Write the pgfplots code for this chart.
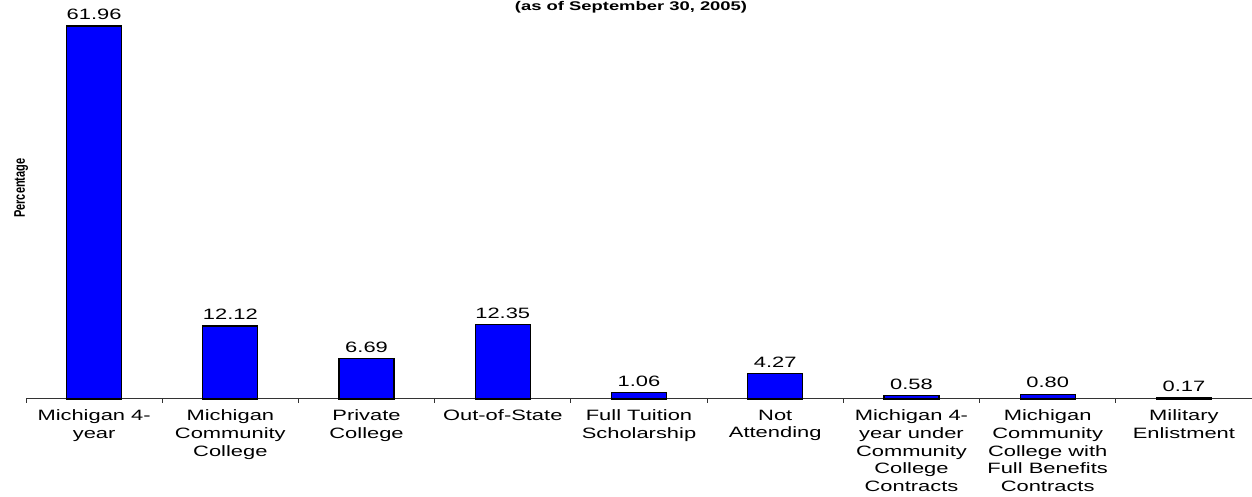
\documentclass[border=0pt]{standalone}
\usepackage{graphicx}
\usepackage{pgfplots}
\pgfplotsset{compat=1.18}
\usepackage{fontspec}
\setmainfont{Liberation Sans}[FakeStretch=1.46]
\newfontfamily\plainsans{Liberation Sans}
\definecolor{barblue}{RGB}{0,0,255}
\begin{document}
\begin{tikzpicture}
\path[use as bounding box] (-13pt,-49pt) rectangle (613pt,199.5pt);
\begin{axis}[
  at={(0,0)}, anchor=south west,
  scale only axis, width=613pt, height=186.6pt,
  xmin=-0.5, xmax=8.5, ymin=0, ymax=62,
  axis x line=bottom, axis y line=none,
  axis line style={-, black!80, line width=0.5pt},
  ytick=\empty,
  xtick={0,...,8},
  xticklabels={{Michigan 4-\\year},{Michigan\\Community\\College},{Private\\College},{Out-of-State},{Full Tuition\\Scholarship},{Not\\Attending},{Michigan 4-\\year under\\Community\\College\\Contracts},{Michigan\\Community\\College with\\Full Benefits\\Contracts},{Military\\Enlistment}},
  major tick length=0pt,
  minor xtick={-0.5,0.5,...,8.5},
  minor tick length=2pt,
  tick align=outside,
  minor tick style={black!80, line width=0.5pt},
  xticklabel style={font=\fontsize{7.5}{8.8}\selectfont, align=center, anchor=north, yshift=-2pt},
  ybar, bar width=27.5pt,
  nodes near coords, point meta=explicit symbolic,
  nodes near coords style={font=\fontsize{7.5}{9}\selectfont, anchor=south, yshift=-0.5pt},
  clip=false,
]
\addplot[fill=barblue, draw=black, line width=0.6pt] coordinates {
  (0,61.96)[61.96] (1,12.12)[12.12] (2,6.69)[6.69] (3,12.35)[12.35]
  (4,1.06)[1.06] (5,4.27)[4.27] (6,0.58)[0.58] (7,0.80)[0.80] (8,0.17)[0.17]};
\node[font=\bfseries\fontsize{6.3}{7}\selectfont, anchor=base] at (rel axis cs:0.4935,1.0397) {(as of September 30, 2005)};
\node[rotate=90, anchor=center, inner sep=0pt] at (rel axis cs:-0.004,0.565) {\plainsans\bfseries\fontsize{5.5}{6}\selectfont\scalebox{1}[1.4]{Percentage}};
\end{axis}
\end{tikzpicture}
\end{document}
